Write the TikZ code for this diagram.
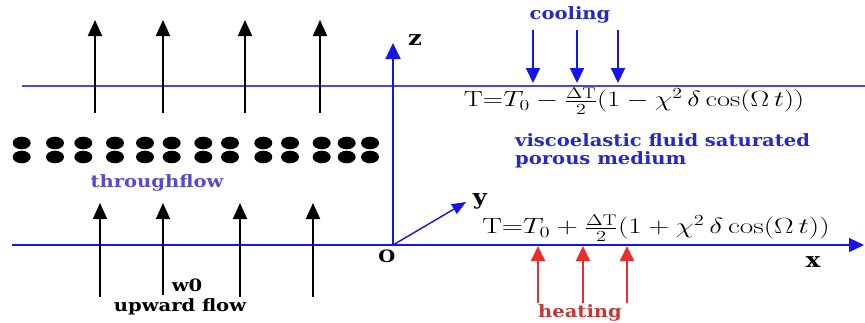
\RequirePackage{fix-cm}
\documentclass[tikz,border=0pt]{standalone}
\usepackage{fontspec}
\usetikzlibrary{arrows.meta}
\newfontfamily\lblfont[FakeStretch=1.15]{DejaVu Serif}
\definecolor{lineblue}{RGB}{70,70,225}
\definecolor{axisblue}{RGB}{20,20,235}
\definecolor{txtblue}{RGB}{40,40,200}
\definecolor{flowblue}{RGB}{85,75,205}
\definecolor{heatred}{RGB}{235,45,45}
\definecolor{heattxt}{RGB}{195,55,55}
\begin{document}
\begin{tikzpicture}[x=1pt,y=-1pt,
  hline/.style={draw=lineblue,line width=1.2pt},
  axis/.style={draw=axisblue,line width=1.8pt,-{Triangle[width=15pt,length=16pt]}},
  flow/.style={draw=black,line width=2pt,-{Triangle[width=14pt,length=16pt]}},
  thinflow/.style={flow,line width=1.4pt},
  cool/.style={draw=axisblue,line width=2pt,-{Triangle[width=14pt,length=15pt]}},
  heat/.style={draw=heatred,line width=2pt,-{Triangle[width=14pt,length=15pt]}},
  lbl/.style={font=\lblfont\bfseries\fontsize{17}{18}\selectfont,inner sep=0pt},
  axlbl/.style={font=\lblfont\bfseries\fontsize{21}{22}\selectfont,inner sep=0pt},
  frm/.style={font=\fontsize{22}{24}\selectfont,inner sep=0pt}
]
\useasboundingbox (0,0) rectangle (865,322);
% horizontal lines
\coordinate (tl) at (22,86);
\coordinate (tr) at (865,86);
\draw[hline] (tl) -- (tr);
\coordinate (bl) at (12,245);
\coordinate (xe) at (864,245);
\coordinate (o) at (393,245);
\draw[hline,-{Triangle[width=14pt,length=15pt]},draw=axisblue,fill=axisblue] (bl) -- (xe);
% axes
\coordinate (ze) at (393,43);
\coordinate (ye) at (466,202);
\draw[axis] (o) -- (ze);
\draw[draw=axisblue,line width=1.4pt,-{Triangle[width=11pt,length=14pt]}] (o) -- (ye);
\node[axlbl] (zl) at (415,40) {z};
\node[axlbl] (yl) at (480,201) {y};
\node[axlbl] (xl) at (813,262) {x};
\node[lbl] (ol) at (387,256) {O};
% upper black arrows
\foreach \i/\x in {1/95,2/163,3/245,4/320}{
  \coordinate (ut\i) at (\x,113);
  \coordinate (uh\i) at (\x,20);
  \draw[flow] (ut\i) -- (uh\i);
}
% lower black arrows
\foreach \i/\x in {1/100,3/240,4/313}{
  \coordinate (lt\i) at (\x,297);
  \coordinate (lh\i) at (\x,203);
  \draw[flow] (lt\i) -- (lh\i);
}
\coordinate (lt2) at (163,295);
\coordinate (lh2) at (163,203);
\draw[thinflow] (lt2) -- (lh2);
% dots
\foreach \x in {21.7,55,83.3,115,145,171.7,203.3,230,263.3,290,321.7,346.7,370}{
  \fill[black] (\x,143) ellipse [x radius=9, y radius=6.3];
  \fill[black] (\x,157) ellipse [x radius=9, y radius=6.3];
}
% labels left
\node[lbl,text=flowblue] (thr) at (157,183) {throughflow};
\node[lbl] (w0) at (187,285) {w0};
\node[lbl] (up) at (180,307) {upward flow};
% cooling arrows
\foreach \i/\x in {1/533,2/577,3/618}{
  \coordinate (ct\i) at (\x,30);
  \coordinate (ch\i) at (\x,83);
  \draw[cool] (ct\i) -- (ch\i);
}
\node[lbl,text=txtblue] (cool) at (570,15) {cooling};
% heating arrows
\foreach \i/\x in {1/538,2/583,3/627}{
  \coordinate (ht\i) at (\x,303);
  \coordinate (hh\i) at (\x,246);
  \draw[heat] (ht\i) -- (hh\i);
}
\node[lbl,text=heattxt] (heat) at (580,313) {heating};
% formulas
\node[frm] (ftop) at (634,101) {\scalebox{1.29}[1]{$\mathrm{T}{=}T_0 - \frac{\Delta\mathrm{T}}{2}\Bigl(1 - \chi^2\,\delta\cos(\Omega\, t)\Bigr)$}};
\node[frm] (fbot) at (656,228) {\scalebox{1.33}[1]{$\mathrm{T}{=}T_0 + \frac{\Delta\mathrm{T}}{2}\Bigl(1 + \chi^2\,\delta\cos(\Omega\, t)\Bigr)$}};
% medium text
\node[lbl,text=txtblue,anchor=west] (m1) at (515,140) {viscoelastic fluid saturated};
\node[lbl,text=txtblue,anchor=west] (m2) at (515,160) {porous medium};
\end{tikzpicture}
\end{document}
